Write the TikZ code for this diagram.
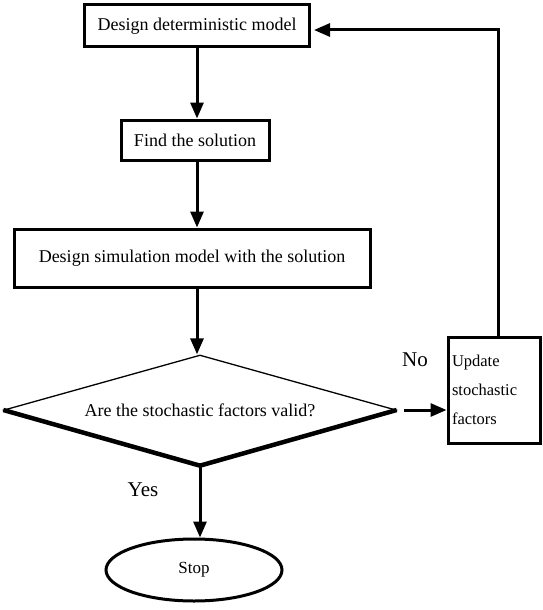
\documentclass[tikz,border=0pt]{standalone}
\usepackage{fontspec}
\setmainfont{Liberation Serif}
\usetikzlibrary{arrows.meta,positioning,shapes.geometric}

\begin{document}
\begin{tikzpicture}[x=1pt, y=-1pt, >={Triangle[length=16pt,width=13pt]},
  every node/.style={font=\fontsize{18}{20}\selectfont},
  box/.style={draw, line width=3pt, inner sep=0pt},
  flow/.style={->, line width=3pt}]
  \useasboundingbox (0,0) rectangle (542,610);

  \node[box, minimum width=225pt, minimum height=42pt] (design) at (197,26) {Design deterministic model};
  \node[box, minimum width=148pt, minimum height=40pt] (solve) at (195,140) {Find the solution};
  \node[box, minimum width=356pt, minimum height=58pt] (sim) at (192,258) {Design simulation model with the solution};
  \node[draw, diamond, line width=1.3pt, inner sep=0pt, minimum width=392pt, minimum height=110pt,
        aspect=3.56] (valid) at (200,410) {Are the stochastic factors valid?};
  \node[box, minimum width=92pt, minimum height=106pt, text width=84pt, align=left,
        font=\fontsize{16.5}{29}\selectfont] (update) at (494,390) {Update\\stochastic\\factors};
  \node[draw, ellipse, line width=3pt, minimum width=176pt, minimum height=62pt,
        font=\fontsize{17}{19}\selectfont] (stop) at (194,570) {Stop};

  \node[font=\fontsize{21}{23}\selectfont] (no) at (415,360) {No};
  \node[font=\fontsize{21}{23}\selectfont] (yes) at (143,490) {Yes};
  \coordinate (corner) at (498,30);

  % shadow on the lower edges of the decision
  \draw[line width=4.5pt] (valid.west) -- (valid.south) -- (valid.east);

  \draw[flow] (design.south) -- (design.south |- solve.north);
  \draw[flow] (solve.south -| design.south) -- (design.south |- sim.north);
  \draw[flow] (sim.south -| design.south) -- (design.south |- valid.north);
  \draw[flow] (valid.south) -- (valid.south |- stop.north);
  \draw[flow, shorten <=7pt] (valid.east) -- (valid.east -| update.west);
  \draw[flow, shorten >=3pt] (update.north -| corner) -- (corner) -- (design.east |- corner);
\end{tikzpicture}
\end{document}
